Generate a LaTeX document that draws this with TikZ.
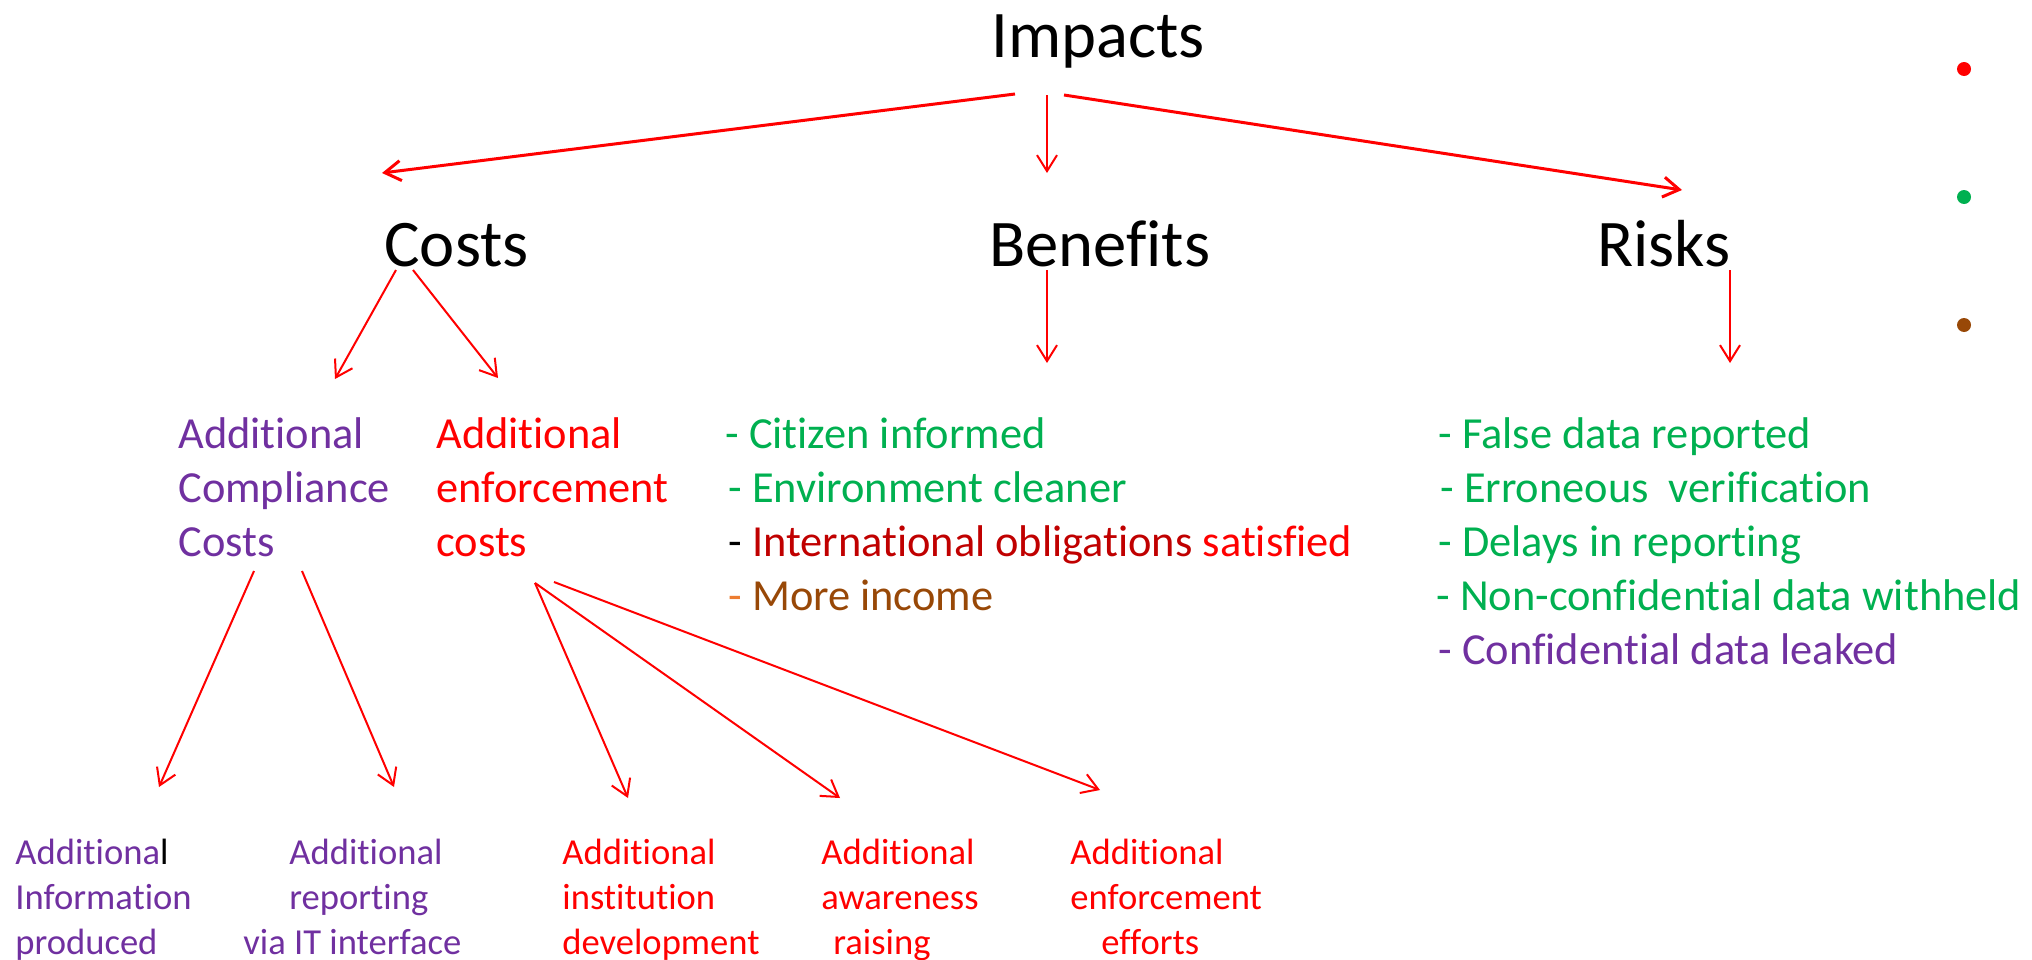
\documentclass[tikz,border=0pt]{standalone}
\usepackage{fontspec}
\setmainfont{Carlito}[Ligatures=NoCommon]
\usetikzlibrary{arrows.meta}
\definecolor{cred}{HTML}{FF0000}
\definecolor{cgreen}{HTML}{00B050}
\definecolor{cpurple}{HTML}{7030A0}
\definecolor{cdarkred}{HTML}{C00000}
\definecolor{cbrown}{HTML}{984807}
\definecolor{corange}{HTML}{ED7D31}

\begin{document}
\begin{tikzpicture}[x=0.5pt,y=-0.5pt,
  title/.style={font=\fontsize{33.3}{40}\selectfont, anchor=base west, inner sep=0pt},
  % multi-line blocks are placed by the baseline of their last line
  mid/.style={font=\fontsize{22.2}{27}\selectfont, anchor=base west, inner sep=0pt, align=left},
  low/.style={font=\fontsize{18.3}{22.5}\selectfont, anchor=base west, inner sep=0pt, align=left},
  bigarrow/.style={draw=cred, line width=1.5pt, -{Straight Barb[length=8pt,width=10pt]}},
  arrow/.style={draw=cred, line width=1pt, -{Straight Barb[length=8pt,width=10pt]}},
]
\useasboundingbox (0,0) rectangle (2032,959);
\clip (0,0) rectangle (2032,959);

% top level and the three branches
\node[title] (impacts)  at (991,57)  {Impacts};
\node[title] (costs)    at (384,266) {Costs};
\node[title] (benefits) at (989,266) {Benefits};
\node[title] (risks)    at (1597,266) {Risks};

% second level
\node[mid, text=cpurple] (compl) at (178,556) {Additional\\Compliance\\Costs};
\node[mid, text=cred]    (enf)   at (436,556) {Additional\\enforcement\\costs};
\node[mid] (benlist) at (725,610) {%
  {\color{cgreen}- Citizen informed}\\
  \hspace*{1.5pt}{\color{cgreen}- Environment cleaner}\\
  \hspace*{1.5pt}{\color{black}-} {\color{cdarkred}International obligations} {\color{cred}satisfied}\\
  \hspace*{1.5pt}{\color{corange}-} {\color{cbrown}More income}};
\node[mid] (risklist) at (1438,664) {%
  {\color{cgreen}- False data reported}\\
  \hspace*{1pt}{\color{cgreen}- Erroneous~ verification}\\
  {\color{cgreen}- Delays in reporting}\\
  \hspace*{-1pt}{\color{cgreen}- Non-confidential data withheld}\\
  {\color{cpurple}- Confidential data leaked}};

% third level
\node[low, text=cpurple] (info) at (15,954)
  {Additiona{\color{black}l}\\Information\\produced};
\node[low, text=cpurple] (itrep) at (289,954)
  {Additional\\reporting\\\hspace*{-23pt}via IT interface};
\node[low, text=cred] (inst) at (562,954)
  {Additional\\institution\\development};
\node[low, text=cred] (aware) at (821,954)
  {Additional\\awareness\\\hspace*{6pt}raising};
\node[low, text=cred] (effort) at (1070,954)
  {Additional\\enforcement\\\hspace*{15.5pt}efforts};

% connector end points
\coordinate (impL) at (1015,94);
\coordinate (impM) at (1047,95);
\coordinate (impR) at (1064,95);
\coordinate (costsIn) at (382,173);
\coordinate (benIn) at (1047,173);
\coordinate (riskIn) at (1682,190);
\coordinate (costsL) at (396,270);
\coordinate (costsR) at (413,270);
\coordinate (complIn) at (335,379);
\coordinate (enfIn) at (498,378);
\coordinate (benOut) at (1047,270);
\coordinate (benListIn) at (1047,363);
\coordinate (riskOut) at (1730,270);
\coordinate (riskListIn) at (1730,363);
\coordinate (complL) at (254,571);
\coordinate (complR) at (302,571);
\coordinate (infoIn) at (159,787);
\coordinate (itrepIn) at (394,787);
\coordinate (enfL) at (535,583);
\coordinate (enfR) at (554,582);
\coordinate (instIn) at (628,798);
\coordinate (awareIn) at (840,798);
\coordinate (effortIn) at (1100,790);

% connectors
\draw[bigarrow] (impL) -- (costsIn);
\draw[arrow] (impM) -- (benIn);
\draw[bigarrow] (impR) -- (riskIn);
\draw[arrow] (costsL) -- (complIn);
\draw[arrow] (costsR) -- (enfIn);
\draw[arrow] (benOut) -- (benListIn);
\draw[arrow] (riskOut) -- (riskListIn);
\draw[arrow] (complL) -- (infoIn);
\draw[arrow] (complR) -- (itrepIn);
\draw[arrow] (enfL) -- (instIn);
\draw[arrow] (enfL) -- (awareIn);
\draw[arrow] (enfR) -- (effortIn);

% colour key dots
\fill[cred]   (1964,69)  circle (3.5pt);
\fill[cgreen] (1964,197) circle (3.5pt);
\fill[cbrown] (1964,325) circle (3.5pt);
\end{tikzpicture}
\end{document}
